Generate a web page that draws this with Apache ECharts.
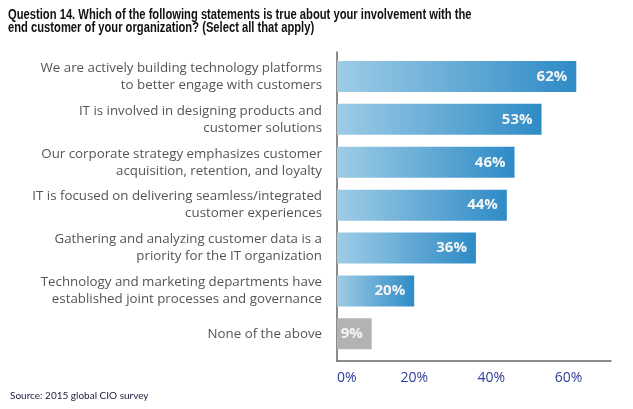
<!DOCTYPE html>
<html><head><meta charset="utf-8">
<script src="https://cdn.jsdelivr.net/npm/echarts@6/dist/echarts.min.js"></script>
<style>html,body{margin:0;padding:0;background:#fff}#c{width:633px;height:409px}</style>
</head><body><div id="c"></div>
<script>
const titleText = "Question 14. Which of the following statements is true about your involvement with the\nend customer of your organization? (Select all that apply)";
const sourceText = "Source: 2015 global CIO survey";
const categories = [
  "We are actively building technology platforms\nto better engage with customers",
  "IT is involved in designing products and\ncustomer solutions",
  "Our corporate strategy emphasizes customer\nacquisition, retention, and loyalty",
  "IT is focused on delivering seamless/integrated\ncustomer experiences",
  "Gathering and analyzing customer data is a\npriority for the IT organization",
  "Technology and marketing departments have\nestablished joint processes and governance",
  "None of the above"
];
const values = [62, 53, 46, 44, 36, 20, 9];
const greyIndex = [6];
const tickValues = [0, 20, 40, 60];

const chart = echarts.init(document.getElementById('c'), null, {renderer: 'canvas'});
const blueGrad = new echarts.graphic.LinearGradient(0, 0, 1, 0, [
  {offset: 0, color: '#9ecce6'}, {offset: 1, color: '#2e8bc6'}
]);
const AXMAX = 71;
chart.setOption({
  animation: false,
  textStyle: {fontFamily: 'Open Sans'},
  title: [
    {text: sourceText, left: 10, top: 391, padding: 0, textStyle: {fontFamily: 'Lato', fontWeight: 'normal', fontSize: 10, color: '#1c1c3c'}}
  ],
  graphic: [
    {type: 'text', x: 8, y: 8, scaleX: 0.80, style: {text: titleText, font: 'bold 14px "Liberation Sans"', fill: '#111', lineHeight: 13.5}}
  ],
  grid: [
    {left: 337, right: 22, top: 55, bottom: 53.7},
    {left: 337, right: 22, top: 52, bottom: 48}
  ],
  xAxis: [
    {gridIndex: 0, type: 'value', min: 0, max: AXMAX, show: false},
    {gridIndex: 1, type: 'value', min: 0, max: AXMAX, interval: 20,
      axisLine: {show: true, lineStyle: {color: '#666', width: 1.5}},
      axisTick: {show: false}, splitLine: {show: false},
      axisLabel: {showMaxLabel: false, alignMinLabel: 'left', margin: 10, fontSize: 14, color: '#2e3d98',
        formatter: v => tickValues.includes(v) ? v + '%' : ''}}
  ],
  yAxis: [
    {gridIndex: 0, type: 'category', inverse: true, data: categories,
      axisLine: {show: false}, axisTick: {show: false},
      axisLabel: {margin: 15, fontSize: 13.3, lineHeight: 17, color: '#555', align: 'right'}},
    {gridIndex: 1, type: 'value', min: 0, max: 1,
      axisLine: {show: true, lineStyle: {color: '#666', width: 1.5}},
      axisTick: {show: false}, axisLabel: {show: false}, splitLine: {show: false}}
  ],
  series: [{
    type: 'bar', xAxisIndex: 0, yAxisIndex: 0, barWidth: 31,
    data: values.map((v, i) => ({value: v, itemStyle: {color: greyIndex.includes(i) ? '#b3b3b3' : blueGrad}})),
    label: {show: true, position: 'insideRight', distance: 9, formatter: '{c}%',
      fontFamily: 'Open Sans', fontWeight: 'bold', fontSize: 15, color: '#f4f4f4'}
  }]
});
</script></body></html>
